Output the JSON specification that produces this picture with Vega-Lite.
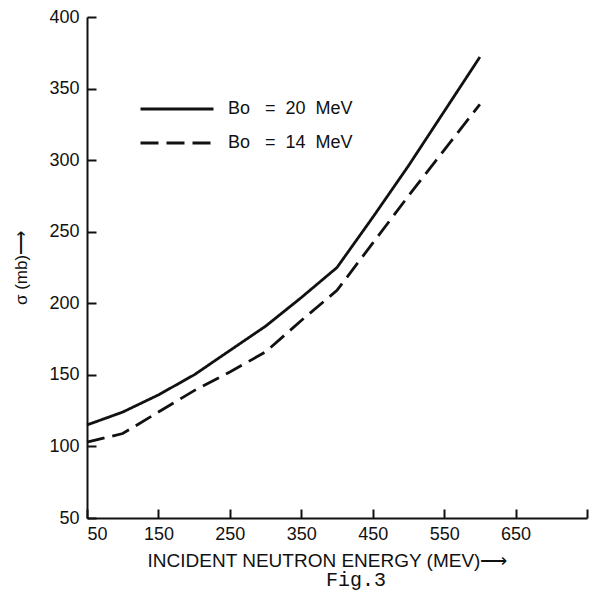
{
  "$schema": "https://vega.github.io/schema/vega-lite/v6.json",
  "width": 500,
  "height": 501,
  "autosize": {"type": "none"},
  "padding": {"left": 87, "top": 17, "right": 2, "bottom": 74},
  "background": "white",
  "title": {"text": "Fig.3", "orient": "bottom", "font": "Liberation Mono", "fontSize": 20, "fontWeight": "normal", "color": "#111", "dx": 19, "offset": 0},
  "data": {
    "values": [
      {"energy": 50, "sigma": 115, "series": "Bo\u00a0\u00a0\u00a0=\u00a0\u00a020\u00a0\u00a0MeV"},
      {"energy": 100, "sigma": 124, "series": "Bo\u00a0\u00a0\u00a0=\u00a0\u00a020\u00a0\u00a0MeV"},
      {"energy": 150, "sigma": 136, "series": "Bo\u00a0\u00a0\u00a0=\u00a0\u00a020\u00a0\u00a0MeV"},
      {"energy": 200, "sigma": 150, "series": "Bo\u00a0\u00a0\u00a0=\u00a0\u00a020\u00a0\u00a0MeV"},
      {"energy": 250, "sigma": 167, "series": "Bo\u00a0\u00a0\u00a0=\u00a0\u00a020\u00a0\u00a0MeV"},
      {"energy": 300, "sigma": 184, "series": "Bo\u00a0\u00a0\u00a0=\u00a0\u00a020\u00a0\u00a0MeV"},
      {"energy": 350, "sigma": 204, "series": "Bo\u00a0\u00a0\u00a0=\u00a0\u00a020\u00a0\u00a0MeV"},
      {"energy": 400, "sigma": 225, "series": "Bo\u00a0\u00a0\u00a0=\u00a0\u00a020\u00a0\u00a0MeV"},
      {"energy": 450, "sigma": 260, "series": "Bo\u00a0\u00a0\u00a0=\u00a0\u00a020\u00a0\u00a0MeV"},
      {"energy": 500, "sigma": 296, "series": "Bo\u00a0\u00a0\u00a0=\u00a0\u00a020\u00a0\u00a0MeV"},
      {"energy": 550, "sigma": 334, "series": "Bo\u00a0\u00a0\u00a0=\u00a0\u00a020\u00a0\u00a0MeV"},
      {"energy": 600, "sigma": 372, "series": "Bo\u00a0\u00a0\u00a0=\u00a0\u00a020\u00a0\u00a0MeV"},
      {"energy": 50, "sigma": 103, "series": "Bo\u00a0\u00a0\u00a0=\u00a0\u00a014\u00a0\u00a0MeV"},
      {"energy": 100, "sigma": 109, "series": "Bo\u00a0\u00a0\u00a0=\u00a0\u00a014\u00a0\u00a0MeV"},
      {"energy": 150, "sigma": 124, "series": "Bo\u00a0\u00a0\u00a0=\u00a0\u00a014\u00a0\u00a0MeV"},
      {"energy": 200, "sigma": 139, "series": "Bo\u00a0\u00a0\u00a0=\u00a0\u00a014\u00a0\u00a0MeV"},
      {"energy": 250, "sigma": 152, "series": "Bo\u00a0\u00a0\u00a0=\u00a0\u00a014\u00a0\u00a0MeV"},
      {"energy": 300, "sigma": 166, "series": "Bo\u00a0\u00a0\u00a0=\u00a0\u00a014\u00a0\u00a0MeV"},
      {"energy": 350, "sigma": 188, "series": "Bo\u00a0\u00a0\u00a0=\u00a0\u00a014\u00a0\u00a0MeV"},
      {"energy": 400, "sigma": 209, "series": "Bo\u00a0\u00a0\u00a0=\u00a0\u00a014\u00a0\u00a0MeV"},
      {"energy": 450, "sigma": 242, "series": "Bo\u00a0\u00a0\u00a0=\u00a0\u00a014\u00a0\u00a0MeV"},
      {"energy": 500, "sigma": 275, "series": "Bo\u00a0\u00a0\u00a0=\u00a0\u00a014\u00a0\u00a0MeV"},
      {"energy": 550, "sigma": 307, "series": "Bo\u00a0\u00a0\u00a0=\u00a0\u00a014\u00a0\u00a0MeV"},
      {"energy": 600, "sigma": 339, "series": "Bo\u00a0\u00a0\u00a0=\u00a0\u00a014\u00a0\u00a0MeV"}
    ]
  },
  "mark": {"type": "line", "color": "#111", "strokeWidth": 2.8, "strokeCap": "butt"},
  "encoding": {
    "x": {
      "field": "energy", "type": "quantitative",
      "scale": {"domain": [50, 750], "nice": false, "zero": false},
      "axis": {
        "values": [50, 150, 250, 350, 450, 550, 650, 750],
        "labelExpr": "datum.value == 750 ? '' : datum.label",
        "labelFlush": true,
        "labelPadding": 16,
        "title": "INCIDENT NEUTRON ENERGY (MEV)\u27f6",
        "titleFontSize": 19,
        "titleX": 240,
        "titlePadding": 8
      }
    },
    "y": {
      "field": "sigma", "type": "quantitative",
      "scale": {"domain": [50, 400], "nice": false, "zero": false},
      "axis": {
        "values": [50, 100, 150, 200, 250, 300, 350, 400],
        "labelPadding": 17,
        "title": "\u03c3 (mb)\u27f6",
        "titleFontSize": 17,
        "titlePadding": 18
      }
    },
    "strokeDash": {
      "field": "series", "type": "nominal",
      "scale": {
        "domain": ["Bo\u00a0\u00a0\u00a0=\u00a0\u00a020\u00a0\u00a0MeV", "Bo\u00a0\u00a0\u00a0=\u00a0\u00a014\u00a0\u00a0MeV"],
        "range": [[1, 0], [18, 8]]
      },
      "legend": {
        "title": null,
        "orient": "none",
        "legendX": 52,
        "legendY": 75,
        "padding": 0,
        "symbolType": "stroke",
        "symbolSize": 5329,
        "symbolStrokeWidth": 2.8,
        "symbolStrokeColor": "#111",
        "clipHeight": 34,
        "rowPadding": 0,
        "labelOffset": 13,
        "labelFont": "Liberation Sans",
        "labelFontSize": 18,
        "labelColor": "#111"
      }
    }
  },
  "config": {
    "view": {"stroke": null},
    "axis": {
      "grid": false,
      "domainColor": "#111",
      "domainWidth": 2,
      "tickColor": "#111",
      "tickWidth": 2,
      "tickSize": -9,
      "labelFont": "Liberation Sans",
      "labelFontSize": 18,
      "labelColor": "#111",
      "titleFont": "Liberation Sans",
      "titleFontWeight": "normal",
      "titleColor": "#111"
    }
  }
}
